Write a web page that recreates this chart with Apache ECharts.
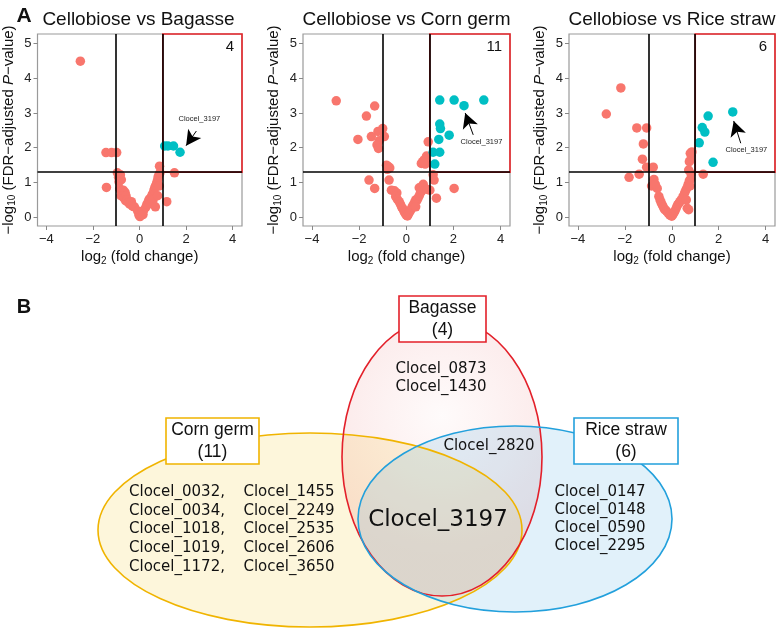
<!DOCTYPE html>
<html>
<head>
<meta charset="utf-8">
<script src="https://cdn.jsdelivr.net/npm/echarts@6/dist/echarts.min.js"></script>
<style>
  html, body { margin: 0; padding: 0; background: #fff; }
  #main { width: 778px; height: 629px; }
</style>
</head>
<body>
<div id="main"></div>
<script>
// volcano points: [log2 fold change, -log10 FDR p]
var bagasseUp = [[1.08, 2.05], [1.22, 2.05], [1.46, 2.05], [1.74, 1.87]];
var bagasseOther = [
  [-2.54, 4.49], [-1.44, 1.86], [-1.2, 1.86], [-0.98, 1.86], [-1.42, 0.86],
  [-0.95, 1.28], [-0.9, 1.15], [-0.82, 1.22], [-0.78, 1.08], [-0.88, 1.02],
  [-0.85, 0.82], [-0.78, 0.75], [-0.7, 0.78], [-0.62, 0.72], [-0.8, 0.62],
  [-0.72, 0.6], [-0.66, 0.55], [-0.58, 0.62], [-0.6, 0.48], [-0.52, 0.5],
  [-0.48, 0.42], [-0.42, 0.38], [-0.35, 0.45], [-0.3, 0.32], [-0.22, 0.3],
  [-0.08, 0.18], [-0.02, 0.06], [0.02, 0.02], [0.08, 0.1], [0.12, 0.16],
  [0.18, 0.2], [0.15, 0.08], [0.28, 0.3], [0.32, 0.38], [0.38, 0.45],
  [0.42, 0.52], [0.45, 0.4], [0.5, 0.58], [0.55, 0.66], [0.58, 0.5],
  [0.62, 0.78], [0.66, 0.86], [0.7, 0.92], [0.74, 1.0], [0.78, 1.08],
  [0.8, 1.16], [0.84, 1.22], [0.88, 1.28], [0.68, 0.3], [0.78, 0.62],
  [0.85, 0.9], [0.86, 1.47], [1.17, 0.45], [1.5, 1.28]
];
var cornUp = [
  [1.42, 3.37], [2.03, 3.37], [2.45, 3.21], [3.29, 3.37], [1.42, 2.68],
  [1.45, 2.55], [1.82, 2.36], [1.38, 2.24], [1.14, 1.87], [1.42, 1.87], [1.21, 1.53]
];
var cornOther = [
  [-2.97, 3.35], [-1.34, 3.2], [-1.69, 2.91], [-2.05, 2.24], [-1.48, 2.32],
  [-1.2, 2.47], [-1.0, 2.55], [-0.93, 2.32], [-1.15, 2.2], [-1.24, 2.08], [-1.18, 1.98],
  [-0.84, 1.5], [-0.76, 1.46], [-0.7, 1.42], [-0.8, 1.38],
  [-1.58, 1.07], [-1.34, 0.83], [-0.73, 1.07], [-0.63, 0.78], [-0.5, 0.76], [-0.4, 0.7],
  [-0.45, 0.6], [-0.38, 0.52], [-0.3, 0.45], [-0.25, 0.38], [-0.2, 0.3],
  [-0.15, 0.25], [-0.1, 0.18], [-0.05, 0.12], [0, 0.06], [0.05, 0.04],
  [0.1, 0.1], [0.15, 0.16], [0.2, 0.22], [0.25, 0.3], [0.3, 0.36],
  [0.35, 0.42], [0.4, 0.5], [0.45, 0.48], [0.5, 0.55], [0.55, 0.62],
  [0.6, 0.7], [0.62, 0.8], [0.68, 0.88], [0.72, 0.95], [0.55, 0.85],
  [0.65, 0.75], [0.4, 0.3],
  [0.93, 2.17], [0.86, 1.76], [0.76, 1.65], [0.64, 1.55], [0.8, 1.53], [0.7, 1.6],
  [1.14, 1.22], [1.18, 1.07], [1.28, 0.55], [2.03, 0.83], [1.0, 0.78], [0.9, 0.8]
];
var riceUp = [[2.6, 3.03], [1.55, 2.91], [1.3, 2.58], [1.41, 2.45], [1.17, 2.14], [1.76, 1.58]];
var riceOther = [
  [-2.17, 3.72], [-2.79, 2.97], [-1.49, 2.57], [-1.07, 2.57], [-1.21, 2.11],
  [-1.25, 1.67], [-1.07, 1.44], [-0.79, 1.44], [-1.82, 1.15], [-1.39, 1.24],
  [-0.76, 1.09], [-0.62, 0.83], [-0.86, 0.9], [-0.7, 0.95],
  [-0.55, 0.6], [-0.5, 0.5], [-0.45, 0.42], [-0.4, 0.35], [-0.35, 0.28],
  [-0.3, 0.22], [-0.22, 0.18], [-0.15, 0.12], [-0.08, 0.06], [0, 0.03],
  [0.05, 0.08], [0.1, 0.14], [0.15, 0.2], [0.2, 0.28], [0.25, 0.36],
  [0.3, 0.4], [0.35, 0.45], [0.4, 0.5], [0.48, 0.6], [0.55, 0.7],
  [0.6, 0.78], [0.65, 0.85], [0.7, 0.95], [0.75, 1.05], [0.8, 1.1],
  [0.78, 0.9], [0.62, 0.5], [0.66, 0.26], [0.72, 0.22],
  [0.79, 1.84], [0.83, 1.7], [0.75, 1.6], [0.86, 1.88], [0.72, 1.36], [0.82, 1.25],
  [1.34, 1.24]
];

var panelTitles = ['Cellobiose vs Bagasse', 'Cellobiose vs Corn germ', 'Cellobiose vs Rice straw'];
var upCounts = [4, 11, 6];
var xTicks = [-4, -2, 0, 2, 4];
var yTicks = [0, 1, 2, 3, 4, 5];
var fcCut = 1;
var pCut = 1.3;
var markedGene = 'Clocel_3197';
var arrowFrom = [[2.44, 2.48], [2.84, 2.37], [2.94, 2.13]];
var arrowTo = [[2.0, 2.06], [2.5, 3.0], [2.64, 2.77]];
var arrowText = [[2.57, 2.82], [3.19, 2.17], [3.18, 1.95]];

// venn sets
var setNames = ['Bagasse', 'Corn germ', 'Rice straw'];
var bagasseOnly = ['Clocel_0873', 'Clocel_1430'];
var bagasseRice = ['Clocel_2820'];
var allThree = ['Clocel_3197'];
var cornOnly = ['Clocel_0032', 'Clocel_0034', 'Clocel_1018', 'Clocel_1019', 'Clocel_1172',
  'Clocel_1455', 'Clocel_2249', 'Clocel_2535', 'Clocel_2606', 'Clocel_3650'];
var riceOnly = ['Clocel_0147', 'Clocel_0148', 'Clocel_0590', 'Clocel_2295'];

var upData = [bagasseUp, cornUp, riceUp];
var otherData = [bagasseOther, cornOther, riceOther];
var gridLeft = [35, 303, 569];
var gridW = [207, 207, 206];
var xMin = -4.38, xMax = 4.4, yMin = -0.25, yMax = 5.27;

var RED = '#F8766D', CYAN = '#00BFC4';
var FONT = 'Liberation Sans';
var GENEFONT = 'DejaVu Sans';

function minus (v) { return (v < 0 ? '\u2212' : '') + Math.abs(v) }

function txt (str, x, y, size, extra) {
  var st = {
    text: str, fontSize: size, fontFamily: FONT, fill: '#111',
    align: 'center', verticalAlign: 'middle', textAlign: 'center', textVerticalAlign: 'middle'
  };
  for (var k in extra) st[k] = extra[k];
  return { type: 'text', x: x, y: y, silent: true, style: st };
}

var grids = [], xAxes = [], yAxes = [], series = [], graphics = [];

for (var i = 0; i < 3; i++) {
  grids.push({
    left: gridLeft[i], top: 34, width: gridW[i], height: 192,
    show: true, borderColor: '#9a9a9a', borderWidth: 1.2
  });
  xAxes.push({
    gridIndex: i, type: 'value', min: xMin, max: xMax,
    name: 'log{sub|2} (fold change)', nameLocation: 'middle', nameGap: 22,
    nameTextStyle: { fontSize: 15, color: '#111', fontFamily: FONT,
      rich: { sub: { fontSize: 10, fontFamily: FONT, padding: [8, 0, 0, 0] } } },
    axisLine: { show: false, onZero: false },
    axisTick: { show: true, length: 4, lineStyle: { color: '#888' }, customValues: xTicks },
    axisLabel: { customValues: xTicks, fontSize: 13, color: '#222', margin: 7, fontFamily: FONT, formatter: minus },
    splitLine: { show: false }
  });
  yAxes.push({
    gridIndex: i, type: 'value', min: yMin, max: yMax,
    name: '\u2212log{sub|10} (FDR\u2212adjusted {it|P}\u2212value)', nameLocation: 'middle', nameGap: 20,
    nameTextStyle: { fontSize: 15, color: '#111', fontFamily: FONT,
      rich: {
        sub: { fontSize: 10, fontFamily: FONT, padding: [8, 0, 0, 0] },
        it: { fontSize: 15, fontStyle: 'italic', fontFamily: FONT }
      } },
    axisLine: { show: false, onZero: false },
    axisTick: { show: true, length: 4, lineStyle: { color: '#888' }, customValues: yTicks },
    axisLabel: { customValues: yTicks, fontSize: 13, color: '#222', margin: 6, fontFamily: FONT },
    splitLine: { show: false }
  });
  series.push({
    type: 'scatter', name: 'other', xAxisIndex: i, yAxisIndex: i,
    data: otherData[i], symbolSize: 9.5, itemStyle: { color: RED, opacity: 1 },
    silent: true, animation: false,
    markLine: {
      silent: true, symbol: 'none', label: { show: false },
      lineStyle: { color: '#000', width: 1.6, type: 'solid' },
      data: [{ xAxis: -fcCut }, { xAxis: fcCut }, { yAxis: pCut }]
    },
    markArea: {
      silent: true,
      itemStyle: { color: 'rgba(0,0,0,0)', borderColor: '#e8262b', borderWidth: 1.6 },
      data: [[{ xAxis: fcCut, yAxis: pCut }, { xAxis: xMax, yAxis: yMax }]]
    }
  });
  series.push({
    type: 'scatter', name: 'up', xAxisIndex: i, yAxisIndex: i,
    data: upData[i], symbolSize: 9.5, itemStyle: { color: CYAN, opacity: 1 },
    silent: true, animation: false,
    markLine: {
      silent: true, symbol: ['none', 'arrow'], symbolSize: [12, 15], label: { show: false },
      lineStyle: { color: '#000', width: 1, type: 'solid' },
      data: [[{ coord: arrowFrom[i] }, { coord: arrowTo[i] }]]
    },
    markPoint: {
      silent: true, symbol: 'circle', symbolSize: 0,
      label: { show: true, position: 'inside', formatter: markedGene, fontSize: 7.5, color: '#222', fontFamily: FONT },
      data: [{ coord: arrowText[i] }]
    }
  });
  var centerX = gridLeft[i] + gridW[i] / 2;
  graphics.push(txt(panelTitles[i], centerX, 20, 19));
  graphics.push(txt(String(upCounts[i]), gridLeft[i] + gridW[i] - 8, 47, 15, { align: 'right', textAlign: 'right' }));
}

graphics.push(txt('A', 24, 16, 21, { fontWeight: 'bold' }));
graphics.push(txt('B', 24, 307, 20, { fontWeight: 'bold' }));

// venn ellipses
var ells = [
  { cx: 310, cy: 530, rx: 212, ry: 97, fill: 'rgba(245,215,90,0.22)', stroke: '#f0b400' },
  { cx: 442, cy: 457, rx: 100, ry: 139,
    fill: { type: 'radial', x: 0.5, y: 0.35, r: 0.7, colorStops: [
      { offset: 0, color: 'rgba(235,120,120,0.03)' }, { offset: 1, color: 'rgba(230,110,110,0.18)' }] },
    stroke: '#e3202a' },
  { cx: 515, cy: 519, rx: 157, ry: 93, fill: 'rgba(90,180,230,0.18)', stroke: '#22a0dc' }
];
ells.forEach(function (e) {
  graphics.push({ type: 'ellipse', silent: true, shape: { cx: e.cx, cy: e.cy, rx: e.rx, ry: e.ry }, style: { fill: e.fill, stroke: null } });
});
ells.forEach(function (e) {
  graphics.push({ type: 'ellipse', silent: true, shape: { cx: e.cx, cy: e.cy, rx: e.rx, ry: e.ry }, style: { fill: null, stroke: e.stroke, lineWidth: 1.6 } });
});

// set label boxes
var boxes = [
  { x: 399, y: 296, w: 87, h: 46, color: '#e3202a', set: 0 },
  { x: 166, y: 418, w: 93, h: 46, color: '#f0b400', set: 1 },
  { x: 574, y: 418, w: 104, h: 46, color: '#22a0dc', set: 2 }
];
boxes.forEach(function (b) {
  graphics.push({ type: 'rect', silent: true, shape: { x: b.x, y: b.y, width: b.w, height: b.h }, style: { fill: '#fff', stroke: b.color, lineWidth: 1.6 } });
  graphics.push(txt(setNames[b.set] + '\n(' + upCounts[b.set] + ')', b.x + b.w / 2, b.y + b.h / 2, 17.5, { lineHeight: 22 }));
});

var geneStyle = { fontFamily: GENEFONT, lineHeight: 18 };
graphics.push(txt(bagasseOnly.join('\n'), 441, 378, 15, geneStyle));
graphics.push(txt(bagasseRice.join('\n'), 489, 446, 15, geneStyle));
graphics.push(txt(riceOnly.join('\n'), 600, 519, 15, geneStyle));
graphics.push(txt(cornOnly.slice(0, 5).map(function (g) { return g + ',' }).join('\n'), 177, 529.5, 15, { fontFamily: GENEFONT, lineHeight: 18.8 }));
graphics.push(txt(cornOnly.slice(5).join('\n'), 289, 529.5, 15, { fontFamily: GENEFONT, lineHeight: 18.8 }));
graphics.push(txt(allThree.join('\n'), 438, 520, 23, { fontFamily: GENEFONT }));

var chart = echarts.init(document.getElementById('main'), null, { renderer: 'canvas' });
chart.setOption({
  animation: false,
  backgroundColor: '#fff',
  grid: grids,
  xAxis: xAxes,
  yAxis: yAxes,
  series: series,
  graphic: graphics
});
</script>
</body>
</html>
